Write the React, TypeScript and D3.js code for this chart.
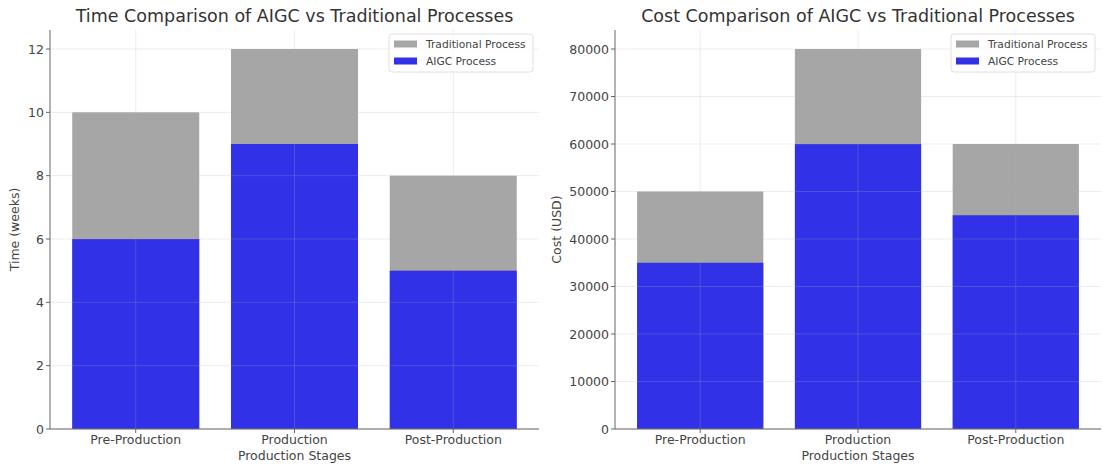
import * as d3 from "d3";

const stages = ["Pre-Production", "Production", "Post-Production"];
const traditionalTime = [10, 12, 8];
const aigcTime = [6, 9, 5];
const traditionalCost = [50000, 80000, 60000];
const aigcCost = [35000, 60000, 45000];
const timeTicks = [0, 2, 4, 6, 8, 10, 12];
const costTicks = [0, 10000, 20000, 30000, 40000, 50000, 60000, 70000, 80000];
const seriesLabels = ["Traditional Process", "AIGC Process"];

const grayFill = "#a6a6a6";
const blueFill = "#3131e8";
const font = "DejaVu Sans, Verdana, sans-serif";

type PanelProps = {
  title: string;
  yLabel: string;
  labelOffset: number;
  traditional: number[];
  aigc: number[];
  ticks: number[];
  left: number;
  right: number;
};

function Panel({ title, yLabel, labelOffset, traditional, aigc, ticks, left, right }: PanelProps) {
  const top = 30;
  const bottom = 429;
  const x = d3.scaleLinear().domain([-0.54, stages.length - 0.46]).range([left, right]);
  const y = d3
    .scaleLinear()
    .domain([0, (d3.max(traditional) ?? 0) * 1.05])
    .range([bottom, top]);
  const barW = x(0.4) - x(-0.4);
  const midX = (left + right) / 2;
  const midY = (top + bottom) / 2;
  const labelX = left - labelOffset;
  const legendW = 144;
  const legendX = right - 6 - legendW;

  return (
    <g fontFamily={font}>
      <text x={midX} y={22} textAnchor="middle" fontSize={17.5} fill="#333">
        {title}
      </text>
      {stages.map((stage, i) => (
        <g key={stage}>
          <rect x={x(i) - barW / 2} y={y(traditional[i])} width={barW} height={bottom - y(traditional[i])} fill={grayFill} />
          <rect x={x(i) - barW / 2} y={y(aigc[i])} width={barW} height={bottom - y(aigc[i])} fill={blueFill} />
        </g>
      ))}
      {/* grid sits over the bars, as in the source */}
      {ticks.map((t) => (
        <line key={`h${t}`} x1={left} x2={right} y1={y(t)} y2={y(t)} stroke="#b0b0b0" strokeOpacity={0.3} strokeWidth={0.8} />
      ))}
      {stages.map((stage, i) => (
        <line key={`v${stage}`} x1={x(i)} x2={x(i)} y1={top} y2={bottom} stroke="#b0b0b0" strokeOpacity={0.3} strokeWidth={0.8} />
      ))}
      <line x1={left} x2={left} y1={top} y2={bottom} stroke="#666" strokeWidth={1} />
      <line x1={left} x2={right} y1={bottom} y2={bottom} stroke="#666" strokeWidth={1} />
      {ticks.map((t) => (
        <g key={`t${t}`}>
          <line x1={left - 4} x2={left} y1={y(t)} y2={y(t)} stroke="#666" />
          <text x={left - 6} y={y(t) + 4.5} textAnchor="end" fontSize={12.5} fill="#444">
            {t}
          </text>
        </g>
      ))}
      {stages.map((stage, i) => (
        <g key={`x${stage}`}>
          <line x1={x(i)} x2={x(i)} y1={bottom} y2={bottom + 4} stroke="#666" />
          <text x={x(i)} y={bottom + 15} textAnchor="middle" fontSize={12.5} fill="#444">
            {stage}
          </text>
        </g>
      ))}
      <text x={midX} y={bottom + 31} textAnchor="middle" fontSize={12.5} fill="#444">
        Production Stages
      </text>
      <text x={labelX} y={midY} transform={`rotate(-90 ${labelX} ${midY})`} textAnchor="middle" fontSize={12.5} fill="#444">
        {yLabel}
      </text>
      <g transform={`translate(${legendX}, 34)`}>
        <rect width={legendW} height={38} rx={3} fill="#fff" fillOpacity={0.8} stroke="#e0e0e0" />
        {seriesLabels.map((label, i) => (
          <g key={label} transform={`translate(5, ${10 + i * 17})`}>
            <rect width={23} height={7} y={-3.5} fill={i === 0 ? grayFill : blueFill} />
            <text x={32} y={3.8} fontSize={10.7} fill="#444">
              {label}
            </text>
          </g>
        ))}
      </g>
    </g>
  );
}

export default function App() {
  return (
    <svg width={1103} height={464} style={{ position: "absolute", left: 0, top: 0, background: "#fff" }}>
      <rect width={1103} height={464} fill="#fff" />
      <Panel
        title="Time Comparison of AIGC vs Traditional Processes"
        yLabel="Time (weeks)"
        labelOffset={31}
        traditional={traditionalTime}
        aigc={aigcTime}
        ticks={timeTicks}
        left={50}
        right={539}
      />
      <Panel
        title="Cost Comparison of AIGC vs Traditional Processes"
        yLabel="Cost (USD)"
        labelOffset={54}
        traditional={traditionalCost}
        aigc={aigcCost}
        ticks={costTicks}
        left={615}
        right={1101}
      />
    </svg>
  );
}
